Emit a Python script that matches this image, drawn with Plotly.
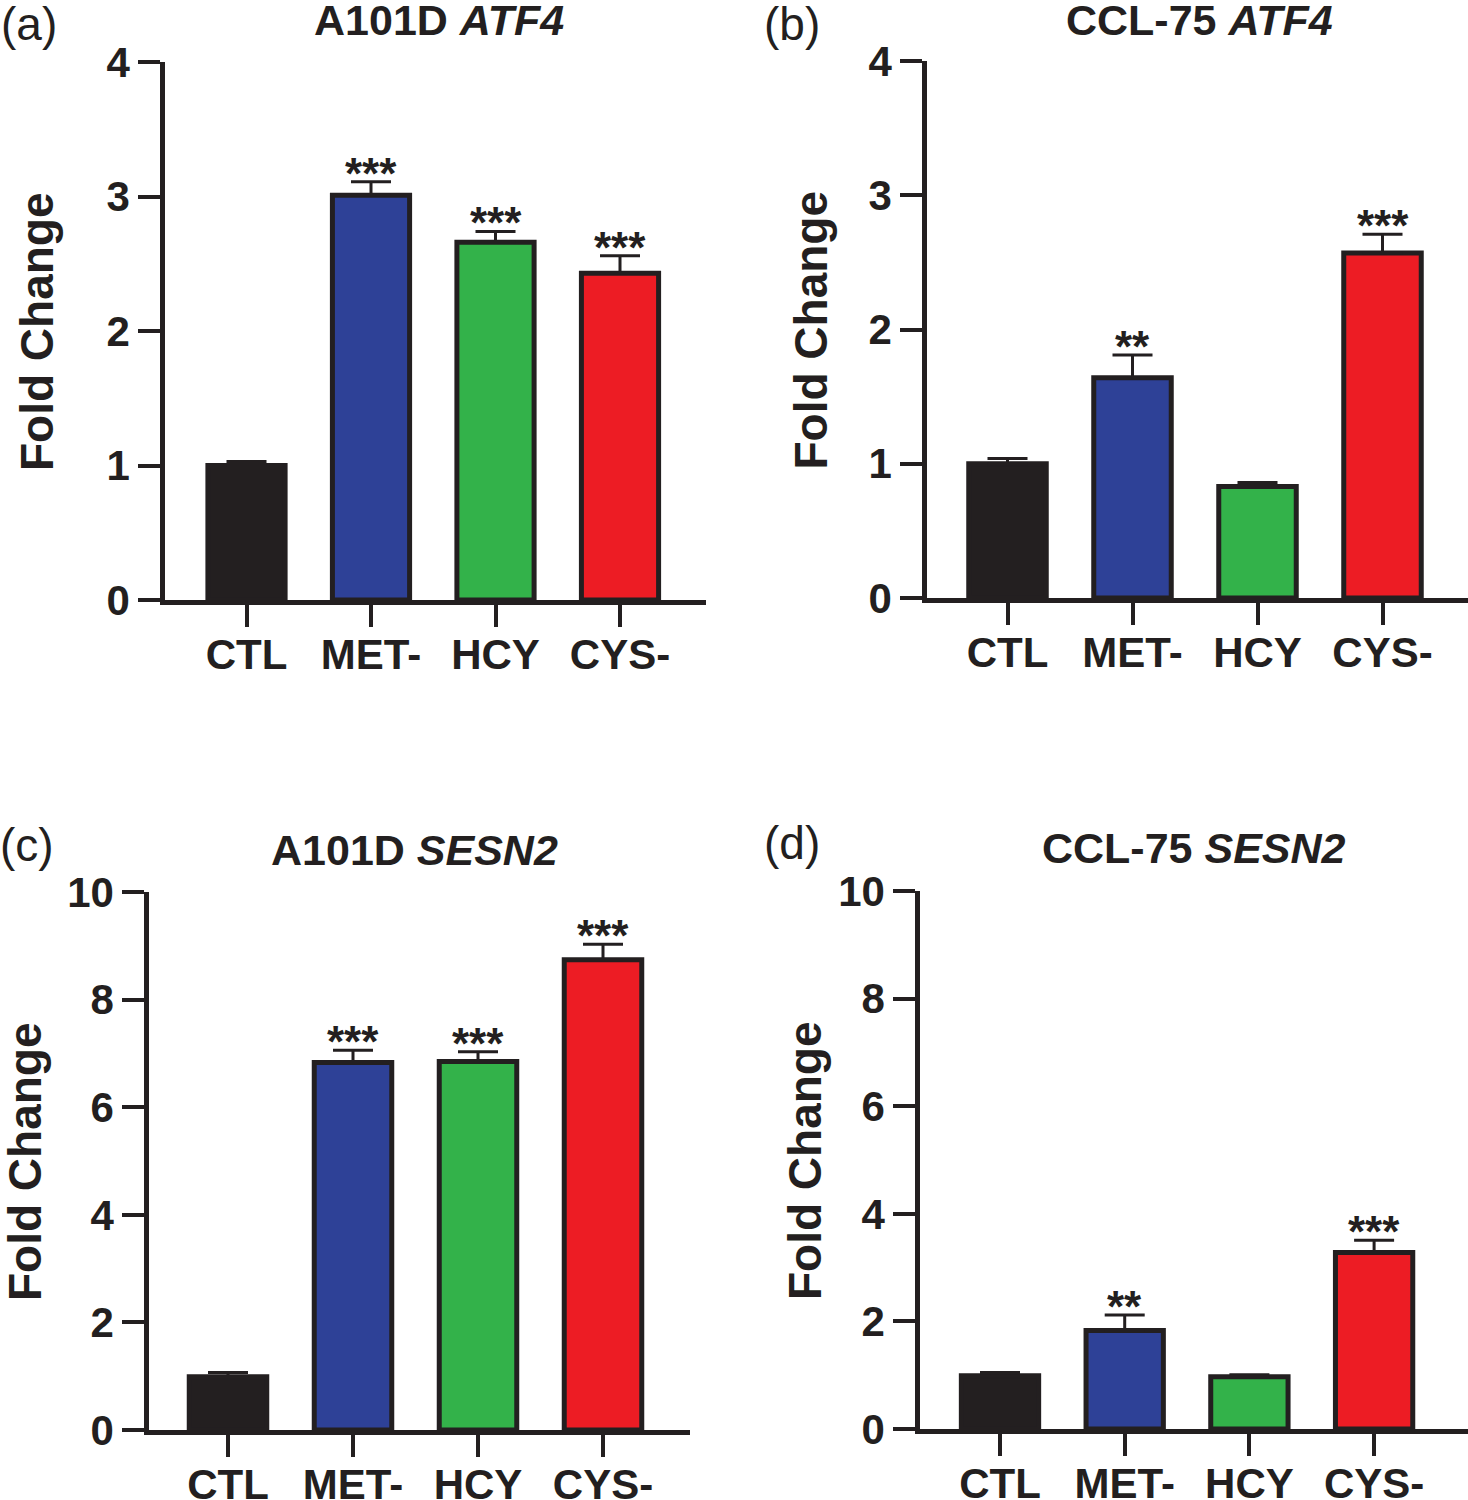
import plotly.graph_objects as go

W, H = 1468, 1500

categories = ["CTL", "MET-", "HCY", "CYS-"]
bar_colors = ["#231f20", "#2e4197", "#33b24a", "#ed1c24"]
edge_color = "#231f20"

# Panel (a) A101D ATF4
a_values = [1.00, 3.01, 2.66, 2.43]
a_errors = [0.03, 0.10, 0.08, 0.13]
a_stars = ["", "***", "***", "***"]
# Panel (b) CCL-75 ATF4
b_values = [1.00, 1.64, 0.83, 2.57]
b_errors = [0.04, 0.17, 0.03, 0.14]
b_stars = ["", "**", "", "***"]
# Panel (c) A101D SESN2
c_values = [0.99, 6.83, 6.85, 8.74]
c_errors = [0.08, 0.23, 0.18, 0.29]
c_stars = ["", "***", "***", "***"]
# Panel (d) CCL-75 SESN2
d_values = [0.99, 1.83, 0.97, 3.28]
d_errors = [0.06, 0.29, 0.04, 0.23]
d_stars = ["", "**", "", "***"]

titles = ["A101D <i>ATF4</i>", "CCL-75 <i>ATF4</i>", "A101D <i>SESN2</i>", "CCL-75 <i>SESN2</i>"]
panel_tags = ["(a)", "(b)", "(c)", "(d)"]
y_title = "Fold Change"
y_maxes = [4, 4, 10, 10]
y_dticks = [1, 1, 2, 2]

# layout geometry in pixels: axis line x, axis line y, top y, right end x, first category centre, spacing
geom = [
    dict(ax=163, ay=602, top=62, xend=706, c0=246.5, sp=124.5, title_x=439, title_y=20, tag_x=29, tag_y=24, ytitle_x=37),
    dict(ax=925, ay=600, top=61, xend=1468, c0=1007.5, sp=125.0, title_x=1199, title_y=20, tag_x=792, tag_y=24, ytitle_x=811),
    dict(ax=147, ay=1432, top=892, xend=690, c0=228.0, sp=125.0, title_x=414, title_y=850, tag_x=27, tag_y=845, ytitle_x=25),
    dict(ax=918, ay=1431, top=891, xend=1468, c0=1000.0, sp=124.7, title_x=1194, title_y=848, tag_x=792, tag_y=843, ytitle_x=805),
]

values = [a_values, b_values, c_values, d_values]
errors = [a_errors, b_errors, c_errors, d_errors]
stars = [a_stars, b_stars, c_stars, d_stars]

FONT = "Liberation Sans, Arial, Helvetica, sans-serif"
TXT = "#231f20"

fig = go.Figure()
annotations = []
layout_axes = {}

for i in range(4):
    g = geom[i]
    xs = "x" if i == 0 else f"x{i+1}"
    ys = "y" if i == 0 else f"y{i+1}"
    xkey = "xaxis" if i == 0 else f"xaxis{i+1}"
    ykey = "yaxis" if i == 0 else f"yaxis{i+1}"

    fig.add_trace(go.Bar(
        x=categories, y=values[i], xaxis=xs, yaxis=ys,
        width=0.62,
        marker=dict(color=bar_colors, line=dict(color=edge_color, width=5)),
        error_y=dict(type="data", array=errors[i], arrayminus=[0] * len(errors[i]),
                     symmetric=False, color=edge_color, thickness=3, width=20),
        showlegend=False, hoverinfo="skip",
    ))

    left_px = g["ax"] + 2
    bottom_px = g["ay"] - 2
    x0 = -(g["c0"] - left_px) / g["sp"]
    x1 = (g["xend"] - g["c0"]) / g["sp"]

    layout_axes[xkey] = dict(
        domain=[left_px / W, g["xend"] / W], anchor=ys, type="category",
        range=[x0, x1], showline=True, linewidth=4.5, linecolor=edge_color,
        ticks="outside", ticklen=22, tickwidth=4, tickcolor=edge_color,
        tickfont=dict(family=FONT, size=42, color=TXT, weight="bold"),
        ticklabelstandoff=-8,
        showgrid=False, zeroline=False, fixedrange=True, automargin=False,
    )
    layout_axes[ykey] = dict(
        domain=[1 - bottom_px / H, 1 - g["top"] / H], anchor=xs,
        range=[0, y_maxes[i]], dtick=y_dticks[i], tick0=0,
        showline=True, linewidth=4.5, linecolor=edge_color,
        ticks="outside", ticklen=22, tickwidth=4, tickcolor=edge_color,
        tickfont=dict(family=FONT, size=42, color=TXT, weight="bold"),
        showgrid=False, zeroline=False, fixedrange=True, automargin=False,
    )

    # significance stars
    for cat, v, e, s in zip(categories, values[i], errors[i], stars[i]):
        if s:
            annotations.append(dict(
                x=cat, y=v + e, xref=xs, yref=ys, text="<b>" + s + "</b>", showarrow=False,
                yanchor="bottom", yshift=-18,
                font=dict(family=FONT, size=44, color=TXT),
            ))

    # panel title
    annotations.append(dict(
        x=g["title_x"] / W, y=1 - g["title_y"] / H, xref="paper", yref="paper",
        text="<b>" + titles[i] + "</b>", showarrow=False, xanchor="center", yanchor="middle",
        font=dict(family=FONT, size=43, color=TXT),
    ))
    # panel tag
    annotations.append(dict(
        x=g["tag_x"] / W, y=1 - g["tag_y"] / H, xref="paper", yref="paper",
        text=panel_tags[i], showarrow=False, xanchor="center", yanchor="middle",
        font=dict(family=FONT, size=46, color=TXT),
    ))
    # y axis title
    annotations.append(dict(
        x=g["ytitle_x"] / W, y=1 - ((g["top"] + g["ay"]) / 2) / H, xref="paper", yref="paper",
        text="<b>" + y_title + "</b>", showarrow=False, textangle=-90,
        xanchor="center", yanchor="middle",
        font=dict(family=FONT, size=46, color=TXT),
    ))

fig.update_layout(
    width=W, height=H, margin=dict(l=0, r=0, t=0, b=0, autoexpand=False),
    paper_bgcolor="white", plot_bgcolor="white",
    annotations=annotations, bargap=0.3,
    **layout_axes,
)

fig.write_html("out.html", config={"displayModeBar": False},
               post_script="document.body.style.margin='0';document.body.style.overflow='hidden';")
